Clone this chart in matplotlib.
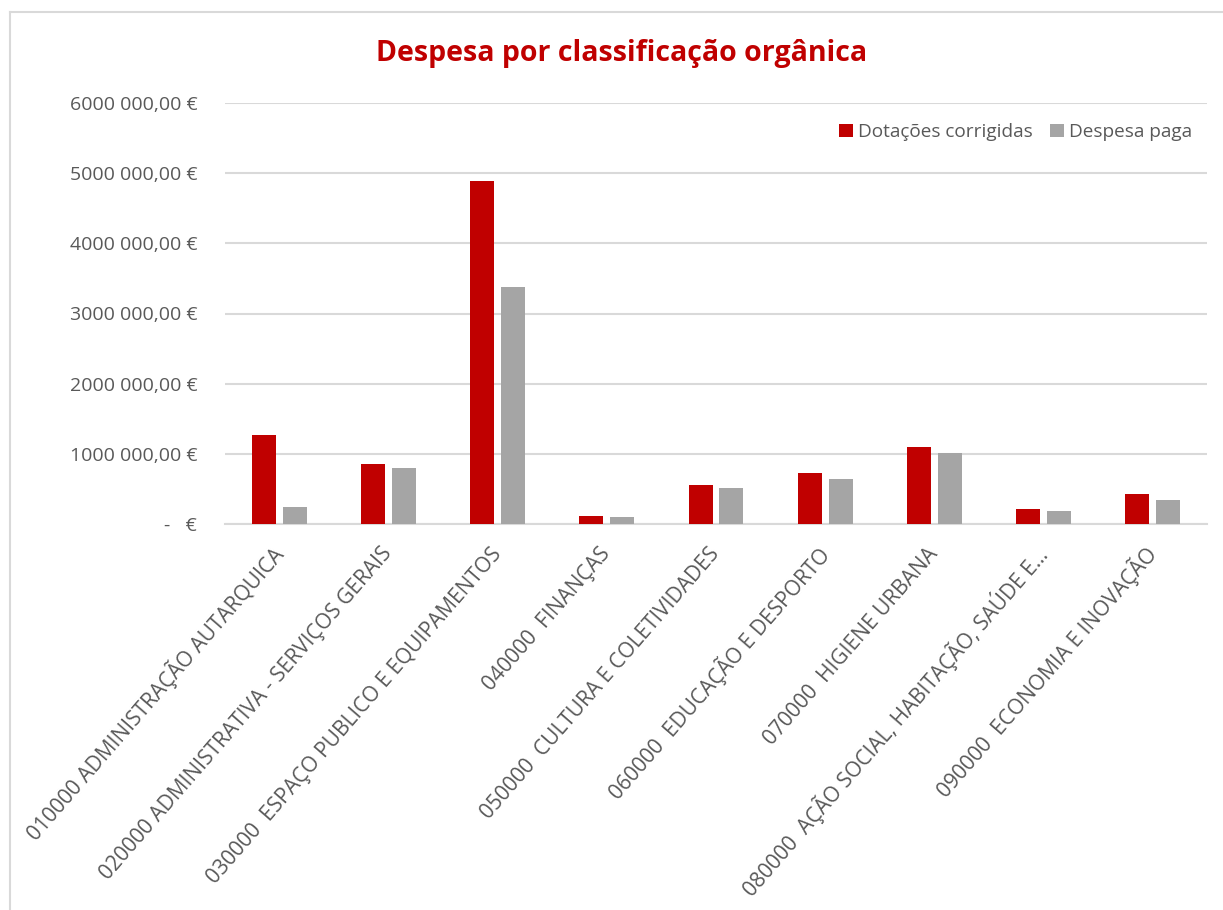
import matplotlib
matplotlib.use("Agg")
import matplotlib.pyplot as plt
from matplotlib.ticker import FuncFormatter, MultipleLocator
from matplotlib.lines import Line2D
import numpy as np

plt.rcParams['font.family'] = ['Open Sans', 'DejaVu Sans']

categories = [
    "010000 ADMINISTRAÇÃO AUTARQUICA",
    "020000 ADMINISTRATIVA - SERVIÇOS GERAIS",
    "030000  ESPAÇO PUBLICO E EQUIPAMENTOS",
    "040000  FINANÇAS",
    "050000  CULTURA E COLETIVIDADES",
    "060000  EDUCAÇÃO E DESPORTO",
    "070000  HIGIENE URBANA",
    "080000  AÇÃO SOCIAL, HABITAÇÃO, SAÚDE E…",
    "090000  ECONOMIA E INOVAÇÃO",
]
dotacoes = [1262000, 853000, 4893000, 114000, 555000, 725000, 1100000, 218000, 422000]
despesa = [242000, 792000, 3381000, 104000, 512000, 640000, 1005000, 185000, 341000]

RED = "#C00000"
GRAY = "#A5A5A5"
TXT = "#595959"
GRID = "#D9D9D9"


def euro(v, pos):
    if v == 0:
        return "-   €"
    ip = str(int(round(v)))
    if len(ip) > 3:
        ip = ip[:-3] + " " + ip[-3:]
    return ip + ",00 €"


fig = plt.figure(figsize=(12.23, 9.10), dpi=100)
ax = fig.add_axes([225/1223, 1 - 524/910, (1207-225)/1223, (524-103)/910])

x = np.arange(len(categories))
w = 0.22
off = 0.142
ax.bar(x - off, dotacoes, w, color=RED, label="Dotações corrigidas", zorder=3)
ax.bar(x + off, despesa, w, color=GRAY, label="Despesa paga", zorder=3)

ax.set_xlim(-0.5, len(categories) - 0.5)
ax.set_ylim(0, 6000000)
ax.yaxis.set_major_locator(MultipleLocator(1000000))
ax.yaxis.set_major_formatter(FuncFormatter(euro))
ax.grid(axis="y", color=GRID, linewidth=1.5, zorder=0)

for s in ["top", "right", "left"]:
    ax.spines[s].set_visible(False)
ax.spines["bottom"].set_color(GRID)
ax.spines["bottom"].set_linewidth(1.5)

ax.tick_params(axis="y", length=0, pad=20, labelsize=14, labelcolor=TXT)
ax.tick_params(axis="x", length=0, pad=19, labelsize=15.1, labelcolor=TXT)
ax.set_xticks(x)
ax.set_xticklabels(categories, rotation=49, ha="right", va="center",
                   rotation_mode="anchor")

fig.text(622/1223, 1 - 54/910, "Despesa por classificação orgânica",
         ha="center", va="center", fontsize=20.5, fontweight="bold", color=RED)

leg = ax.legend(loc="upper right", bbox_to_anchor=(0.993, 0.97), ncol=2,
                frameon=False, fontsize=13.7, handlelength=0.7,
                handleheight=0.7, handletextpad=0.3, columnspacing=0.9,
                borderaxespad=0.0)
for t in leg.get_texts():
    t.set_color(TXT)

# chart border (left and top edges visible)
fig.add_artist(Line2D([10/1223, 10/1223], [0, 1 - 12/910], color=GRID, lw=1.5))
fig.add_artist(Line2D([10/1223, 1], [1 - 12/910, 1 - 12/910], color=GRID, lw=1.5))

fig.savefig("out.png", dpi=100)
